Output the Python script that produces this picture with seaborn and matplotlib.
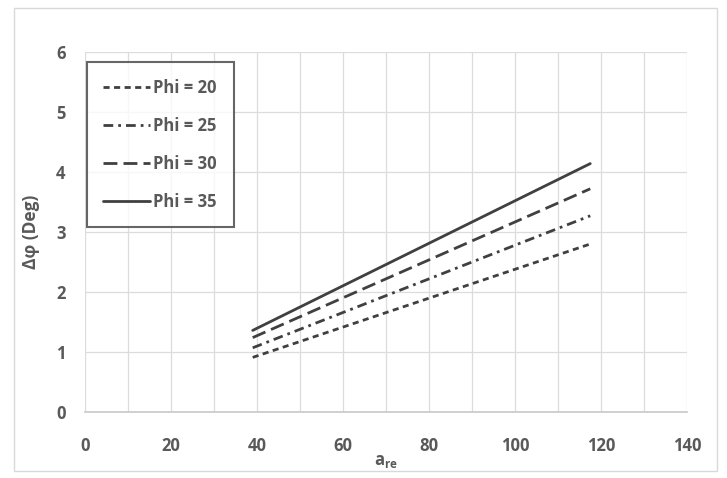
import matplotlib
matplotlib.use("Agg")
import matplotlib.pyplot as plt
import seaborn as sns
import pandas as pd
from matplotlib.patches import Rectangle

# values
a_re = [39, 117.5]
phi_labels = ["Phi = 20", "Phi = 25", "Phi = 30", "Phi = 35"]
dphi_20 = [0.91, 2.80]
dphi_25 = [1.07, 3.27]
dphi_30 = [1.24, 3.72]
dphi_35 = [1.36, 4.14]

x_ticks = [0, 20, 40, 60, 80, 100, 120, 140]
y_ticks = [0, 1, 2, 3, 4, 5, 6]

rows = []
for lab, vals in zip(phi_labels, [dphi_20, dphi_25, dphi_30, dphi_35]):
    for x, y in zip(a_re, vals):
        rows.append({"a_re": x, "dphi": y, "Phi": lab})
df = pd.DataFrame(rows)

sns.set_style("white")
plt.rcParams["font.family"] = ["Open Sans", "DejaVu Sans"]

fig = plt.figure(figsize=(7.27, 4.78), dpi=100)
ax = fig.add_axes([85 / 727, 1 - 412 / 478, (687 - 85) / 727, (412 - 52) / 478])

line_col = "#404040"
dashes = {
    "Phi = 20": (2.2, 1.6),
    "Phi = 25": (3.5, 1.8, 1, 1.8),
    "Phi = 30": (5, 2.2),
    "Phi = 35": "",
}
sns.lineplot(data=df, x="a_re", y="dphi", hue="Phi", style="Phi",
             palette=[line_col] * 4, dashes=dashes, linewidth=2,
             ax=ax, legend=True)

ax.set_xlim(0, 140)
ax.set_ylim(0, 6)
ax.set_xticks(x_ticks)
ax.set_xticks(range(10, 140, 20), minor=True)
ax.set_yticks(y_ticks)
ax.grid(True, which="both", axis="x", color="#dcdcdc", linewidth=0.9)
ax.grid(True, which="major", axis="y", color="#dcdcdc", linewidth=0.9)
ax.tick_params(axis="both", which="both", length=0, pad=18, labelsize=12,
               labelcolor="#595959")
ax.tick_params(axis="y", pad=14)
for t in ax.get_xticklabels() + ax.get_yticklabels():
    t.set_fontweight("bold")
for s in ["top", "right", "left"]:
    ax.spines[s].set_visible(False)
ax.spines["bottom"].set_color("#c8c8c8")
ax.spines["bottom"].set_linewidth(1.2)

ax.set_xlabel(r"a$_\mathregular{re}$", fontsize=12, fontweight="bold",
              color="#595959", labelpad=-2)
ax.set_ylabel("Δφ (Deg)", fontsize=12.5, fontweight="bold", color="#595959")
ax.yaxis.set_label_coords(-0.075, 0.5)

leg = ax.legend(title=None, loc="upper left", bbox_to_anchor=(0.003, 0.972),
                borderaxespad=0, frameon=True, fancybox=False, fontsize=12,
                handlelength=2.8, handletextpad=0.2, labelspacing=1.2,
                borderpad=1.0)
leg.get_frame().set_edgecolor("#404040")
leg.get_frame().set_linewidth(1.5)
for t in leg.get_texts():
    t.set_color("#595959")
    t.set_fontweight("bold")

fig.patches.append(Rectangle((14 / 727, 1 - 471 / 478), (717 - 14) / 727,
                             (471 - 8) / 478, transform=fig.transFigure,
                             fill=False, edgecolor="#d9d9d9", linewidth=1))

fig.savefig("out.png", dpi=100)
